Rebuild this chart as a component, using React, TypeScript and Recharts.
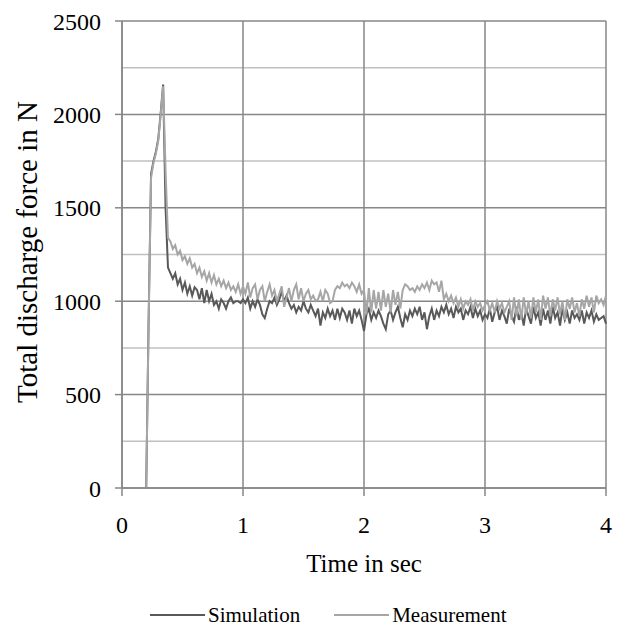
import { CartesianGrid, Line, LineChart, XAxis, YAxis } from "recharts";

const T_STEP = 0.02;

// Simulation force in N, one value every 0.02 s from 0 to 4 s
const SIM = [
  0, 0, 0, 0, 0, 0, 0, 0, 0, 0, 0,
  900, 1680, 1750, 1800, 1870, 2010, 2160, 1500, 1180,
  1150, 1120, 1150, 1090, 1120, 1060, 1100, 1040, 1080, 1030,
  1075, 1060, 1010, 1070, 990, 1060, 1000, 1040, 980, 1000,
  960, 1010, 990, 960, 1000, 1020, 990, 1000, 1000, 990,
  1010, 990, 1020, 960, 1000, 970, 1010, 980, 930, 910,
  960, 1000, 990, 1020, 980, 1010, 1050, 1000, 1030, 990,
  960, 980, 940, 970, 950, 1000, 960, 940, 980, 950,
  920, 960, 870, 940, 910, 960, 920, 950, 900, 960,
  910, 960, 940, 900, 950, 880, 960, 920, 950, 900,
  840, 930, 960, 900, 940, 910, 950, 920, 880, 850,
  930, 950, 900, 940, 970, 910, 860, 930, 900, 950,
  920, 960, 930, 970, 900, 940, 850, 920, 960, 900,
  950, 920, 970, 940, 980, 930, 960, 910, 970, 940,
  960, 900, 950, 930, 970, 910, 960, 920, 950, 900,
  930, 910, 960, 890, 940, 970, 900, 950, 920, 880,
  960, 920, 890, 970, 900, 940, 870, 960, 920, 880,
  970, 910, 940, 870, 960, 900, 950, 880, 970, 910,
  940, 870, 960, 900, 940, 880, 950, 910, 930, 900,
  950, 880, 940, 910, 950, 890, 930, 900, 910, 920,
  880,
];

// Measured force in N, same sampling
const MEAS = [
  0, 0, 0, 0, 0, 0, 0, 0, 0, 0, 0,
  880, 1660, 1740, 1790, 1860, 2000, 2150, 1700, 1340,
  1320, 1280, 1300, 1250, 1270, 1220, 1240, 1200, 1230, 1180,
  1200, 1150, 1180, 1130, 1160, 1110, 1150, 1100, 1140, 1090,
  1120, 1080, 1110, 1070, 1100, 1060, 1080, 1050, 1090, 1040,
  1080, 1040, 1100, 1020, 1070, 1090, 1010, 1060, 1080, 1000,
  1050, 1090, 1030, 1060, 1000, 1040, 1080, 970, 1020, 1070,
  1000, 1060, 1090, 1010, 1070, 1000, 1040, 1060, 1010, 1030,
  1000, 1010, 1050, 1000, 1060, 1040, 990, 1000, 1060, 1080,
  1070, 1100, 1080, 1090, 1070, 1100, 1080, 1050, 1090, 1040,
  1060, 930, 1070, 940, 1060, 960, 1050, 950, 1060, 970,
  1040, 940, 1060, 980, 1050, 960, 1060, 1090, 1080, 1060,
  1070, 1050, 1080, 1060, 1090, 1070, 1100, 1060, 1110, 1090,
  1100, 1050, 1110, 1010, 1040, 1000, 1030, 990, 1020, 970,
  1010, 960, 1000, 980, 1010, 950, 1000, 970, 990, 950,
  980, 1000, 950, 990, 940, 1000, 960, 990, 940, 970,
  1000, 900, 1020, 920, 1010, 900, 1020, 930, 1000, 910,
  1020, 940, 1010, 900, 1030, 960, 1020, 920, 1010, 950,
  1020, 930, 1000, 900, 1010, 960, 1020, 940, 990, 920,
  1010, 960, 1030, 970, 1020, 940, 1030, 990, 1010, 980,
  1030,
];

const X_TICKS = [0, 1, 2, 3, 4];
const Y_TICKS = [0, 500, 1000, 1500, 2000, 2500];
const Y_MINOR = [250, 750, 1250, 1750, 2250];

const SIM_COLOR = "#595959";
const MEAS_COLOR = "#a6a6a6";
const MAJOR = "#878787";
const MINOR = "#c0c0c0";
const FONT = "Liberation Serif";

const data = SIM.map((v, i) => ({
  t: Math.round(i * T_STEP * 100) / 100,
  sim: v,
  meas: MEAS[i],
}));

const XTick = (p: any) => (
  <text x={p.x} y={p.y} dy="0.71em" textAnchor="middle" fontFamily={FONT} fontSize={24} fill="#000">
    {p.payload.value}
  </text>
);

const YTick = (p: any) => (
  <text x={p.x} y={p.y} dy="0.355em" textAnchor="end" fontFamily={FONT} fontSize={24} fill="#000">
    {p.payload.value}
  </text>
);

export default function App() {
  return (
    <div
      style={{
        position: "absolute",
        left: 0,
        top: 0,
        width: 621,
        height: 628,
        background: "#fff",
        fontFamily: FONT,
      }}
    >
      <LineChart
        width={621}
        height={628}
        data={data}
        margin={{ top: 21, right: 15, bottom: 0, left: 0 }}
      >
        <CartesianGrid stroke={MINOR} strokeWidth={1.5} vertical={false} horizontalValues={Y_MINOR} />
        <CartesianGrid
          stroke={MAJOR}
          strokeWidth={1.5}
          horizontalValues={Y_TICKS}
          verticalValues={X_TICKS}
        />
        <XAxis
          dataKey="t"
          type="number"
          domain={[0, 4]}
          ticks={X_TICKS}
          height={140}
          tickSize={8}
          tickMargin={20}
          stroke={MAJOR}
          strokeWidth={1.5}
          tick={XTick}
          label={{
            value: "Time in sec",
            position: "insideBottom",
            offset: 56,
            style: { fill: "#000", fontSize: 25, fontFamily: FONT },
          }}
        />
        <YAxis
          type="number"
          domain={[0, 2500]}
          ticks={Y_TICKS}
          width={122}
          tickSize={7}
          tickMargin={14}
          stroke={MAJOR}
          strokeWidth={1.5}
          tick={YTick}
          label={{
            content: () => (
              <text
                x={27}
                y={252}
                transform="rotate(-90 27 252)"
                textAnchor="middle"
                dominantBaseline="central"
                fontFamily={FONT}
                fontSize={29}
                fill="#000"
              >
                Total discharge force in N
              </text>
            ),
          }}
        />
        <Line
          dataKey="sim"
          stroke={SIM_COLOR}
          strokeWidth={2}
          dot={false}
          isAnimationActive={false}
        />
        <Line
          dataKey="meas"
          stroke={MEAS_COLOR}
          strokeWidth={2}
          dot={false}
          isAnimationActive={false}
        />
      </LineChart>
      <div
        style={{
          position: "absolute",
          left: 150,
          top: 603,
          height: 24,
          display: "flex",
          alignItems: "center",
          fontSize: 21,
          color: "#000",
        }}
      >
        <span style={{ width: 55, height: 2, background: SIM_COLOR, marginRight: 3 }} />
        <span style={{ marginRight: 34 }}>Simulation</span>
        <span style={{ width: 55, height: 2, background: MEAS_COLOR, marginRight: 3 }} />
        <span>Measurement</span>
      </div>
    </div>
  );
}
